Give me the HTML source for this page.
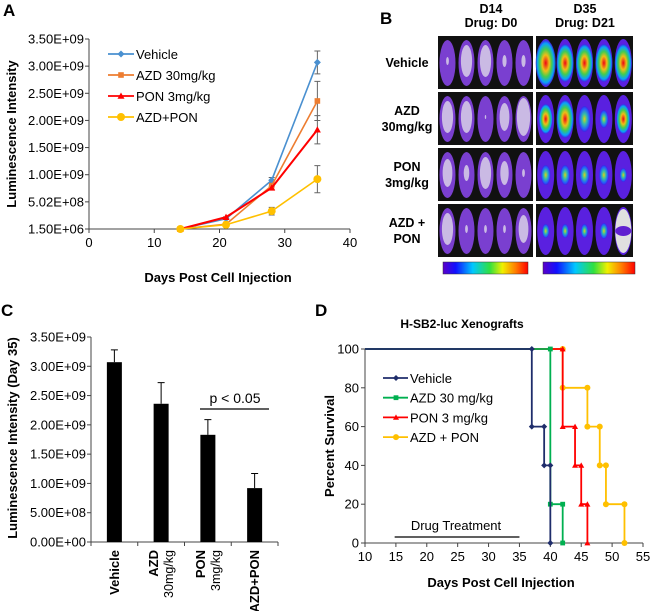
<!DOCTYPE html>
<html><head><meta charset="utf-8"><style>
body{margin:0;background:#fff;}
svg{display:block;font-family:"Liberation Sans",Arial,sans-serif;}
</style></head><body>
<svg id="fig" width="650" height="611" viewBox="0 0 650 611" xmlns="http://www.w3.org/2000/svg">
<g id="pA"></g>
<g id="pB"></g>
<g id="pC"></g>
<g id="pD"></g>
</svg>
<script>
// ---- Panel A data ----
const aDays = [14, 21, 28, 35];
const aVehicle = [1.5e6, 1.9e8, 0.90e9, 3.07e9];
const aAZD = [1.5e6, 0.9e8, 0.80e9, 2.36e9];
const aPON = [1.5e6, 2.2e8, 0.76e9, 1.83e9];
const aCombo = [1.5e6, 0.8e8, 0.33e9, 0.92e9];
const aErrVehicle = [0, 0, 0.05e9, 0.21e9];
const aErrAZD = [0, 0, 0, 0.36e9];
const aErrPON = [0, 0.06e8, 0.03e9, 0.26e9];
const aErrCombo = [0, 0, 0.07e9, 0.25e9];
const aYTicks = ["1.50E+06","5.02E+08","1.00E+09","1.50E+09","2.00E+09","2.50E+09","3.00E+09","3.50E+09"];
const aXTicks = [0, 10, 20, 30, 40];
const aLegend = ["Vehicle","AZD 30mg/kg","PON 3mg/kg","AZD+PON"];
// ---- Panel C data ----
const cCats = [["Vehicle"],["AZD","30mg/kg"],["PON","3mg/kg"],["AZD+PON"]];
const cVals = [3.07e9, 2.36e9, 1.83e9, 0.92e9];
const cErr = [0.21e9, 0.36e9, 0.26e9, 0.25e9];
const cYTicks = ["0.00E+00","5.00E+08","1.00E+09","1.50E+09","2.00E+09","2.50E+09","3.00E+09","3.50E+09"];
// ---- Panel D data ----
const dVehT = [10, 37, 39, 40];
const dVehS = [100, 60, 40, 0];
const dAzdT = [10, 40, 42];
const dAzdS = [100, 20, 0];
const dPonT = [10, 42, 44, 45, 46];
const dPonS = [100, 60, 40, 20, 0];
const dComT = [10, 42, 46, 48, 49, 52];
const dComS = [100, 80, 60, 40, 20, 0];
const dXTicks = [10,15,20,25,30,35,40,45,50,55];
const dYTicks = [0,20,40,60,80,100];
const dLegend = ["Vehicle","AZD 30 mg/kg","PON 3 mg/kg","AZD + PON"];

const NS="http://www.w3.org/2000/svg";
function mk(parent, tag, attrs, text){
  const e=document.createElementNS(NS,tag);
  for(const k in attrs) e.setAttribute(k, attrs[k]);
  if(text!==undefined) e.textContent=text;
  parent.appendChild(e); return e;
}
function marker(g, shape, x, y, color, r){
  let m;
  if(shape==="diamond") m=mk(g,"path",{d:`M${x} ${y-r}L${x+r} ${y}L${x} ${y+r}L${x-r} ${y}Z`,fill:color});
  else if(shape==="square") m=mk(g,"rect",{x:x-r*0.8,y:y-r*0.8,width:r*1.6,height:r*1.6,fill:color});
  else if(shape==="triangle") m=mk(g,"path",{d:`M${x} ${y-r}L${x+r} ${y+r*0.8}L${x-r} ${y+r*0.8}Z`,fill:color});
  else m=mk(g,"circle",{cx:x,cy:y,r:r,fill:color});
  return m;
}
const TF=13;

// ================= Panel A =================
(function(){
  const g=document.getElementById('pA');
  const x0=89,x1=350,yTop=39,yBot=229;
  const X=d=>x0+(d-0)/40*(x1-x0);
  const Y=v=>yBot-(v-1.5e6)/3.5e9*(yBot-yTop);
  const t=mk(g,"text",{x:3,y:16,"font-size":17,"font-weight":"bold"},"A");
  
  
  const ax=mk(g,"path",{d:`M${x0} ${yTop}V${yBot}H${x1}`,stroke:"#444",fill:"none","stroke-width":1});
  
  
  aYTicks.forEach((l,i)=>{
    const y=yBot-i*(yBot-yTop)/7;
    mk(g,"line",{x1:x0-4,x2:x0,y1:y,y2:y,stroke:"#444"});
    const tx=mk(g,"text",{x:x0-5,y:y+4.5,"font-size":TF,"text-anchor":"end"},l);
    
    
  });
  aXTicks.forEach(d=>{
    mk(g,"line",{x1:X(d),x2:X(d),y1:yBot,y2:yBot+4,stroke:"#444"});
    const tx=mk(g,"text",{x:X(d),y:yBot+18,"font-size":TF,"text-anchor":"middle"},d);
    
    
  });
  const yt=mk(g,"text",{x:0,y:0,"font-size":TF,"font-weight":"bold","text-anchor":"middle",transform:`translate(16,134) rotate(-90)`},"Luminescence Intensity");
  
  
  const xt=mk(g,"text",{x:218,y:282,"font-size":TF,"font-weight":"bold","text-anchor":"middle"},"Days Post Cell Injection");
  
  
  const series=[[aVehicle,aErrVehicle,"#4a90d0","diamond"],[aAZD,aErrAZD,"#ed7d31","square"],[aPON,aErrPON,"#ff0000","triangle"],[aCombo,aErrCombo,"#ffc000","circle"]];
  const names=['vehicle','azd','pon','azd-pon'];
  series.forEach((s,si)=>{
    const [vals,err,col,shape]=s;
    vals.forEach((v,i)=>{ if(err[i]>0){
      const eb=mk(g,"path",{d:`M${X(aDays[i])} ${Y(v-err[i])}V${Y(v+err[i])}M${X(aDays[i])-3} ${Y(v-err[i])}h6M${X(aDays[i])-3} ${Y(v+err[i])}h6`,stroke:"#666",fill:"none"});
      
      
    }});
  });
  series.forEach((s,si)=>{
    const [vals,err,col,shape]=s;
    const p=mk(g,"polyline",{points:vals.map((v,i)=>X(aDays[i])+","+Y(v)).join(" "),stroke:col,fill:"none","stroke-width":si===2?2:1.6});
    
    
    vals.forEach((v,i)=>{
      const m=marker(g,shape,X(aDays[i]),Y(v),col,shape==="circle"?4:3.5);
      
      
    });
    const ly=54+si*21;
    const ll=mk(g,"line",{x1:108,x2:134,y1:ly,y2:ly,stroke:col,"stroke-width":1.8});
    
    
    marker(g,shape,121,ly,col,shape==="circle"?4:3.5);
    const lt=mk(g,"text",{x:136,y:ly+5,"font-size":TF},aLegend[si]);
    
    
  });
})();

// ================= Panel B =================
(function(){
  const g=document.getElementById('pB');
  const defs=mk(g,"defs",{});
  const cb=mk(defs,"linearGradient",{id:"rainbow",x1:0,x2:1,y1:0,y2:0});
  [["0","#5a00c8"],["0.15","#1010ff"],["0.35","#00c8ff"],["0.55","#30e040"],["0.7","#f0f000"],["0.85","#ff8000"],["1","#ff0000"]].forEach(s=>mk(cb,"stop",{offset:s[0],"stop-color":s[1]}));
  const hot=mk(defs,"radialGradient",{id:"hot"});
  [["0","#ff0000"],["0.35","#ffd000"],["0.6","#40e040"],["0.85","#00b0ff"],["1","#4020e0"]].forEach(s=>mk(hot,"stop",{offset:s[0],"stop-color":s[1]}));
  const warm=mk(defs,"radialGradient",{id:"warm"});
  [["0","#f0e000"],["0.4","#30d0a0"],["0.8","#2060ff"],["1","#4020e0"]].forEach(s=>mk(warm,"stop",{offset:s[0],"stop-color":s[1]}));
  const t=mk(g,"text",{x:380,y:24,"font-size":17,"font-weight":"bold"},"B");
  
  
  [["D14","Drug: D0",491],["D35","Drug: D21",585]].forEach(h=>{
    const a=mk(g,"text",{x:h[2],y:13,"font-size":12.5,"font-weight":"bold","text-anchor":"middle"},h[0]);
    
    
    const b=mk(g,"text",{x:h[2],y:27,"font-size":12.5,"font-weight":"bold","text-anchor":"middle"},h[1]);
    
    
  });
  const rowsY=[36,92,148,204];
  const rowLabels=[["Vehicle"],["AZD","30mg/kg"],["PON","3mg/kg"],["AZD +","PON"]];
  const heat=[[1,.8,.8,.8,.8],[.6,.8,.5,.3,.6],[.35,.35,.35,.35,.2],[.2,.2,.2,.25,0]];
  const whiteL=[[.2,.8,.8,.3,.3],[.8,.8,.1,.7,.95],[.7,.4,.8,.6,.2],[.8,.2,.2,.2,.7]];
  rowsY.forEach((ry,ri)=>{
    const lab=rowLabels[ri];
    lab.forEach((l,li)=>{
      const y=ry+27+(li-(lab.length-1)/2)*16+4;
      const e=mk(g,"text",{x:407,y:y,"font-size":12.5,"font-weight":"bold","text-anchor":"middle"},l);
      
      
    });
    [[438,95,"left"],[536,97,"right"]].forEach((c,ci)=>{
      const bg=mk(g,"rect",{x:c[0],y:ry,width:c[1],height:53,fill:"#111"});
      
      
      for(let k=0;k<5;k++){
        const cx=c[0]+c[1]*(k+0.5)/5, cy=ry+27;
        if(ci===0){
          const wl=whiteL[ri][k];
          mk(g,"ellipse",{cx:cx,cy:cy,rx:8,ry:23,fill:"#7a3fd0"});
          mk(g,"ellipse",{cx:cx,cy:cy-2,rx:7*wl,ry:20*wl,fill:"#d8d0e8",opacity:0.85});
        } else {
          const h=heat[ri][k];
          mk(g,"ellipse",{cx:cx,cy:cy,rx:8.5,ry:24,fill:"#5a20e0"});
          if(h>0){
            mk(g,"ellipse",{cx:cx,cy:cy,rx:8*h+2,ry:20*h+3,fill:h>0.5?"url(#hot)":"url(#warm)",opacity:0.9});
          } else {
            mk(g,"ellipse",{cx:cx,cy:cy,rx:8,ry:22,fill:"#e0e0e0"});
            mk(g,"ellipse",{cx:cx,cy:cy,rx:8,ry:5,fill:"#6020d0"});
          }
        }
      }
    });
  });
  [[443,85],[543,92]].forEach(c=>{
    const r=mk(g,"rect",{x:c[0],y:262,width:c[1],height:12,fill:"url(#rainbow)",stroke:"#333","stroke-width":0.5});
    
    
  });
})();

// ================= Panel C =================
(function(){
  const g=document.getElementById('pC');
  const x0=91,x1=278,yTop=337,yBot=542;
  const Y=v=>yBot-v/3.5e9*(yBot-yTop);
  const step=(x1-x0)/cVals.length;
  const t=mk(g,"text",{x:1,y:316,"font-size":17,"font-weight":"bold"},"C");
  
  
  const ax=mk(g,"path",{d:`M${x0} ${yTop}V${yBot}H${x1}`,stroke:"#444",fill:"none"});
  
  
  cYTicks.forEach((l,i)=>{
    const y=yBot-i*(yBot-yTop)/7;
    mk(g,"line",{x1:x0-4,x2:x0,y1:y,y2:y,stroke:"#444"});
    const tx=mk(g,"text",{x:x0-5,y:y+4.5,"font-size":TF,"text-anchor":"end"},l);
    
    
  });
  for(let i=0;i<=cVals.length;i++) mk(g,"line",{x1:x0+i*step,x2:x0+i*step,y1:yBot,y2:yBot+4,stroke:"#444"});
  const yt=mk(g,"text",{x:0,y:0,"font-size":TF,"font-weight":"bold","text-anchor":"middle",transform:`translate(17,438) rotate(-90)`},"Luminescence Intensity (Day 35)");
  
  
  cVals.forEach((v,i)=>{
    const cx=x0+step*(i+0.5);
    const b=mk(g,"rect",{x:cx-7.5,y:Y(v),width:15,height:yBot-Y(v),fill:"#000"});
    
    
    const e=mk(g,"path",{d:`M${cx} ${Y(v)}V${Y(v+cErr[i])}M${cx-3.5} ${Y(v+cErr[i])}h7`,stroke:"#000",fill:"none"});
    
    
    const lab=cCats[i];
    lab.forEach((l,li)=>{
      const xx=cx+(li-(lab.length-1)/2)*15+4.5;
      const tx=mk(g,"text",{x:0,y:0,"font-size":li===0?13:12.5,"font-weight":li===0?"bold":"normal","text-anchor":"end",transform:`translate(${xx},${yBot+8}) rotate(-90)`},l);
      
      
    });
  });
  const sl=mk(g,"line",{x1:200,x2:269,y1:409,y2:409,stroke:"#000","stroke-width":1.2});
  
  
  const st=mk(g,"text",{x:235,y:403,"font-size":14,"text-anchor":"middle"},"p < 0.05");
  
  
})();

// ================= Panel D =================
(function(){
  const g=document.getElementById('pD');
  const x0=365,x1=643,yTop=349,yBot=543;
  const X=d=>x0+(d-10)/45*(x1-x0);
  const Y=s=>yBot-s/100*(yBot-yTop);
  const t=mk(g,"text",{x:315,y:316,"font-size":17,"font-weight":"bold"},"D");
  
  
  const ti=mk(g,"text",{x:462,y:328,"font-size":12,"font-weight":"bold","text-anchor":"middle"},"H-SB2-luc Xenografts");
  
  
  const ax=mk(g,"path",{d:`M${x0} ${yTop}V${yBot}H${x1}`,stroke:"#444",fill:"none"});
  
  
  dYTicks.forEach(s=>{
    mk(g,"line",{x1:x0-4,x2:x0,y1:Y(s),y2:Y(s),stroke:"#444"});
    const tx=mk(g,"text",{x:x0-6,y:Y(s)+4.5,"font-size":TF,"text-anchor":"end"},s);
    
    
  });
  dXTicks.forEach(d=>{
    mk(g,"line",{x1:X(d),x2:X(d),y1:yBot,y2:yBot+4,stroke:"#444"});
    const tx=mk(g,"text",{x:X(d),y:yBot+18,"font-size":TF,"text-anchor":"middle"},d);
    
    
  });
  const yt=mk(g,"text",{x:0,y:0,"font-size":TF,"font-weight":"bold","text-anchor":"middle",transform:`translate(334,446) rotate(-90)`},"Percent Survival");
  
  
  const xt=mk(g,"text",{x:501,y:587,"font-size":TF,"font-weight":"bold","text-anchor":"middle"},"Days Post Cell Injection");
  
  
  const dl=mk(g,"line",{x1:X(14.8),x2:X(35),y1:537,y2:537,stroke:"#000","stroke-width":1.3});
  
  
  const dt=mk(g,"text",{x:456,y:530,"font-size":TF,"text-anchor":"middle"},"Drug Treatment");
  
  
  const series=[[dComT,dComS,"#ffc000","circle","azd-pon"],[dPonT,dPonS,"#ff0000","triangle","pon"],[dAzdT,dAzdS,"#00b050","square","azd"],[dVehT,dVehS,"#1f2d6b","diamond","vehicle"]];
  series.forEach(s=>{
    const [T,S,col,shape,nm]=s;
    let d=`M${X(T[0])} ${Y(S[0])}`;
    for(let i=1;i<T.length;i++) d+=`H${X(T[i])}V${Y(S[i])}`;
    const p=mk(g,"path",{d:d,stroke:col,fill:"none","stroke-width":1.8});
    
    
    for(let i=1;i<T.length;i++){
      [S[i-1],S[i]].forEach(v=>{
        const m=marker(g,shape,X(T[i]),Y(v),col,3);
        
        
      });
    }
  });
  const legCols=["#1f2d6b","#00b050","#ff0000","#ffc000"],legShapes=["diamond","square","triangle","circle"];
  dLegend.forEach((l,i)=>{
    const ly=378+i*19.7;
    const ll=mk(g,"line",{x1:383,x2:408,y1:ly,y2:ly,stroke:legCols[i],"stroke-width":1.8});
    
    
    marker(g,legShapes[i],396,ly,legCols[i],3);
    const lt=mk(g,"text",{x:410,y:ly+5,"font-size":TF},l);
    
    
  });
})();
</script>
</body></html>
